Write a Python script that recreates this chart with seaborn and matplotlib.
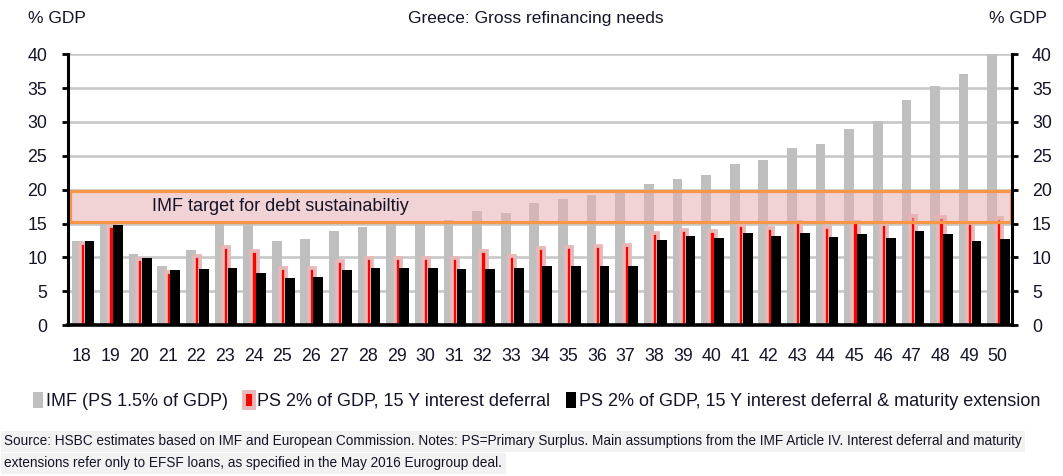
import numpy as np
import pandas as pd
import matplotlib
matplotlib.use("Agg")
import matplotlib.pyplot as plt
from matplotlib.patches import Patch
import seaborn as sns

# ---- data ----
years = [str(y) for y in range(18, 51)]
imf = [12.35, 15.0, 10.47, 8.79, 11.06, 15.0, 15.0, 12.44, 12.74, 13.93, 14.5,
       15.0, 15.0, 15.56, 16.9, 16.6, 18.07, 18.6, 19.26, 19.46, 20.8, 21.6,
       22.1, 23.85, 24.44, 26.2, 26.8, 28.9, 30.1, 33.2, 35.3, 37.1, 40.0]
ps_deferral = [12.1, 14.6, 9.7, 7.9, 10.2, 11.5, 11.0, 8.5, 8.5, 9.5, 9.85,
               9.85, 9.9, 9.9, 11.0, 10.25, 11.4, 11.6, 11.7, 11.9, 13.65, 14.1,
               13.95, 14.75, 14.4, 15.2, 14.55, 15.2, 15.0, 16.15, 15.95, 15.1, 15.8]
ps_extension = [12.35, 14.8, 9.98, 8.15, 8.35, 8.49, 7.75, 7.0, 7.1, 8.15, 8.44,
                8.44, 8.44, 8.35, 8.35, 8.5, 8.74, 8.74, 8.74, 8.74, 12.64, 13.09,
                12.9, 13.63, 13.09, 13.63, 12.94, 13.48, 12.9, 13.9, 13.48, 12.44, 12.74]
yticks = [0, 5, 10, 15, 20, 25, 30, 35, 40]
legend_labels = ["IMF (PS 1.5% of GDP)",
                 "PS 2% of GDP, 15 Y interest deferral",
                 "PS 2% of GDP, 15 Y interest deferral & maturity extension"]
band_low, band_high = 15, 20

plt.rcParams['font.family'] = ['Liberation Sans', 'DejaVu Sans']
TXT = '#141428'

fig = plt.figure(figsize=(10.63, 4.76), dpi=100)
ax = fig.add_axes([0.0635, 0.317, 0.8885, 0.569])

pos = np.arange(len(years))
GRAY = '#bfbfbf'
PINK = '#e6b8b7'

sns.barplot(x=pos - 0.19, y=imf, native_scale=True, width=0.34, color=GRAY,
            saturation=1, errorbar=None, ax=ax, linewidth=0, zorder=2)
sns.barplot(x=pos + 0.035, y=ps_deferral, native_scale=True, width=0.215, color='#ff0000',
            saturation=1, errorbar=None, ax=ax, edgecolor=PINK, linewidth=2.7, zorder=3)
sns.barplot(x=pos + 0.265, y=ps_extension, native_scale=True, width=0.34, color='#000000',
            saturation=1, errorbar=None, ax=ax, linewidth=0, zorder=4)

# target band
ax.axhspan(band_low + 0.25, band_high - 0.25, xmin=0.003, xmax=0.9985,
           facecolor=(0.90, 0.69, 0.70, 0.55), edgecolor='#f79646', linewidth=2.3, zorder=5)
ax.text(2.45, (band_low + band_high) / 2, "IMF target for debt sustainabiltiy",
        fontsize=13, color=TXT, va='center', ha='left', zorder=6)

ax.set_xlim(-0.5, len(years) - 0.5)
ax.set_ylim(0, 40)
ax.set_xticks(pos)
ax.set_xticklabels(years)
ax.set_yticks(yticks)
ax.set_yticklabels([str(t) for t in yticks])
ax.set_xlabel("")
ax.set_ylabel("")

for y in yticks[1:]:
    ax.axhline(y, color='#c8c8c8', linewidth=1.9, zorder=1)

for s in ['left', 'right', 'bottom']:
    ax.spines[s].set_visible(True)
    ax.spines[s].set_color('black')
    ax.spines[s].set_linewidth(2.2)
ax.spines['bottom'].set_linewidth(2.6)
ax.spines['top'].set_visible(False)
ax.spines['left'].set_zorder(7)
ax.spines['right'].set_zorder(7)
ax.spines['bottom'].set_zorder(7)

ax.tick_params(axis='y', left=True, right=True, labelleft=True, labelright=True,
               direction='out', length=4.5, width=2, color='black', pad=10,
               labelsize=12.8, labelcolor=TXT)
ax.tick_params(axis='x', bottom=False, pad=13, labelsize=12.8, labelcolor=TXT)
ax.grid(False)

# titles
fig.text(0.504, 0.962, "Greece: Gross refinancing needs", fontsize=12.5, color=TXT,
         ha='center', va='center')
fig.text(0.026, 0.962, "% GDP", fontsize=12.5, color=TXT, ha='left', va='center')
fig.text(0.985, 0.962, "% GDP", fontsize=12.5, color=TXT, ha='right', va='center')

# legend
handles = [Patch(facecolor=GRAY, edgecolor='none'),
           Patch(facecolor='#ff0000', edgecolor=PINK, linewidth=2.8),
           Patch(facecolor='black', edgecolor='none')]
fig.legend(handles, legend_labels, loc='center left', bbox_to_anchor=(0.024, 0.158),
           ncol=3, frameon=False, fontsize=13, handlelength=0.55, handleheight=1.0,
           handletextpad=0.2, columnspacing=0.85, labelcolor=TXT, borderaxespad=0)

# source
src1 = ("Source: HSBC estimates based on IMF and European Commission. Notes: PS=Primary Surplus. "
        "Main assumptions from the IMF Article IV. Interest deferral and maturity")
src2 = "extensions refer only to EFSF loans, as specified in the May 2016 Eurogroup deal."
for ytxt, s in [(0.073, src1), (0.027, src2)]:
    fig.text(0.004, ytxt, s, fontsize=9.85, color=TXT, ha='left', va='center',
             bbox=dict(facecolor='#f2f2f2', edgecolor='none', pad=2.5))

fig.savefig("out.png", dpi=100)
